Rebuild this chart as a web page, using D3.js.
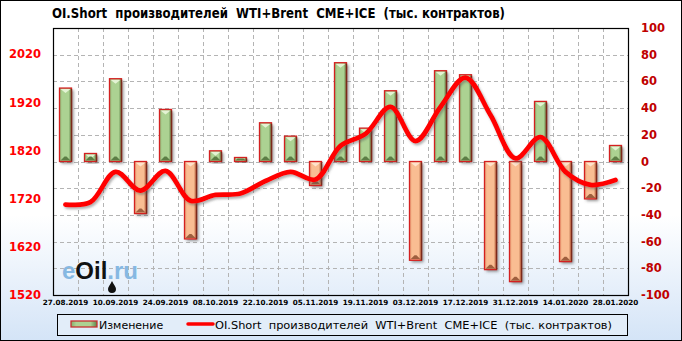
<!DOCTYPE html>
<html>
<head>
<meta charset="utf-8">
<script src="https://cdn.jsdelivr.net/npm/d3@7"></script>
<style>
  body { margin: 0; background: #fff; }
  svg { display: block; }
</style>
</head>
<body>
<script>
//weekly report dates
var dates = ["27.08.2019", "03.09.2019", "10.09.2019", "17.09.2019", "24.09.2019", "01.10.2019",
    "08.10.2019", "15.10.2019", "22.10.2019", "29.10.2019", "05.11.2019", "12.11.2019",
    "19.11.2019", "26.11.2019", "03.12.2019", "10.12.2019", "17.12.2019", "24.12.2019",
    "31.12.2019", "07.01.2020", "14.01.2020", "21.01.2020", "28.01.2020"];

//weekly change (right axis)
var changes = [55, 6, 62, -39, 39, -58, 8, 3, 29, 19, -18, 74, 25, 53, -74, 68, 65, -81, -90, 45, -75, -28, 12];

//OI.Short level (left axis)
var oiShort = [1708, 1713, 1776, 1737, 1778, 1716, 1728, 1731, 1757, 1776, 1760, 1830, 1855, 1911, 1840, 1911, 1972, 1894, 1804, 1848, 1776, 1749, 1759];

var leftTicks = [1520, 1620, 1720, 1820, 1920, 2020];
var rightTicks = [-100, -80, -60, -40, -20, 0, 20, 40, 60, 80, 100];

var titleText = "OI.Short  производителей  WTI+Brent  CME+ICE  (тыс. контрактов)";
var legendBars = "Изменение";

window.onload = draw();

function draw() {
    var width = 682,
        height = 341;
    var plot = {left: 53, right: 628, top: 28, bottom: 295};

    var svg = d3.select("body").append("svg")
        .attr("width", width)
        .attr("height", height)
        .style("font-family", "'DejaVu Sans', Verdana, sans-serif");

    var defs = svg.append("defs");

    //background fade to light blue at the bottom
    var bg = defs.append("linearGradient").attr("id", "bg")
        .attr("gradientUnits", "userSpaceOnUse")
        .attr("x1", 0).attr("y1", 215).attr("x2", 0).attr("y2", 341);
    bg.append("stop").attr("offset", 0).attr("stop-color", "#ffffff");
    bg.append("stop").attr("offset", 1).attr("stop-color", "#d4e4f7");

    function barGrad(id, edgeL, mid, edgeR) {
        var g = defs.append("linearGradient").attr("id", id)
            .attr("x1", 0).attr("y1", 0).attr("x2", 1).attr("y2", 0);
        g.append("stop").attr("offset", 0).attr("stop-color", edgeL);
        g.append("stop").attr("offset", 0.2).attr("stop-color", mid);
        g.append("stop").attr("offset", 0.75).attr("stop-color", mid);
        g.append("stop").attr("offset", 1).attr("stop-color", edgeR);
    }
    barGrad("gGreen", "#86ad6c", "#acd292", "#5f834a");
    barGrad("gOrange", "#e0946a", "#f9bd92", "#b9704a");

    var sh = defs.append("filter").attr("id", "shadow")
        .attr("x", "-50%").attr("y", "-20%").attr("width", "200%").attr("height", "140%");
    sh.append("feDropShadow").attr("dx", 2).attr("dy", 2).attr("stdDeviation", 1.6)
        .attr("flood-color", "#444").attr("flood-opacity", 0.6);

    var lsh = defs.append("filter").attr("id", "lshadow")
        .attr("x", "-10%").attr("y", "-20%").attr("width", "120%").attr("height", "140%");
    lsh.append("feDropShadow").attr("dx", 1.5).attr("dy", 2).attr("stdDeviation", 1.2)
        .attr("flood-color", "#555").attr("flood-opacity", 0.45);

    svg.append("rect")
        .attr("x", 0.5).attr("y", 0.5)
        .attr("width", width - 1).attr("height", height - 1)
        .attr("fill", "url(#bg)")
        .attr("stroke", "#000");

    //scales
    var x = d3.scaleBand()
        .domain(dates)
        .range([plot.left, plot.right])
        .paddingInner(0).paddingOuter(0);

    var yRight = d3.scaleLinear()
        .domain([-100, 100])
        .range([plot.bottom, plot.top]);

    var yLeft = d3.scaleLinear()
        .domain([1520, 2075])
        .range([plot.bottom, plot.top]);

    //grid
    var grid = svg.append("g").attr("class", "grid")
        .attr("stroke", "#b4b4b4")
        .attr("stroke-dasharray", "4,3")
        .attr("stroke-width", 1);

    grid.selectAll(".hgrid")
        .data(rightTicks.filter(function(d){ return d > -100 && d < 100; }))
        .enter().append("line")
        .attr("x1", plot.left).attr("x2", plot.right)
        .attr("y1", function(d){ return Math.round(yRight(d)) + 0.5; })
        .attr("y2", function(d){ return Math.round(yRight(d)) + 0.5; });

    grid.selectAll(".vgrid")
        .data(dates.slice(1))
        .enter().append("line")
        .attr("x1", function(d){ return Math.round(x(d)) + 0.5; })
        .attr("x2", function(d){ return Math.round(x(d)) + 0.5; })
        .attr("y1", plot.top).attr("y2", plot.bottom);

    //watermark
    var wm = svg.append("text")
        .attr("x", 62).attr("y", 279)
        .attr("textLength", 76)
        .attr("lengthAdjust", "spacingAndGlyphs")
        .style("font-family", "'Liberation Sans', Arial, sans-serif")
        .style("font-size", "23px")
        .style("font-weight", "bold");
    wm.append("tspan").attr("fill", "#86b8e2").text("e");
    wm.append("tspan").attr("fill", "#111").text("Oil");
    wm.append("tspan").attr("fill", "#86b8e2").text(".ru");
    svg.append("path")
        .attr("d", "M112,281 C110,285 108,287 108,289 A3.5,3.5 0 0 0 116,289 C116,287 114,285 112,281 Z")
        .attr("fill", "#111");

    //bars
    var bw = 12;
    var bars = svg.append("g").attr("class", "bars");
    var bar = bars.selectAll(".bar")
        .data(changes)
        .enter().append("g")
        .attr("class", "bar");

    bar.each(function(d, i) {
        var g = d3.select(this);
        var cx = x(dates[i]) + x.bandwidth() / 2;
        var x0 = cx - bw / 2;
        var yTop = yRight(Math.max(d, 0)),
            yBot = yRight(Math.min(d, 0));
        var pos = d >= 0;
        var h = yBot - yTop;

        g.append("rect")
            .attr("x", x0).attr("y", yTop)
            .attr("width", bw).attr("height", h)
            .attr("fill", pos ? "url(#gGreen)" : "url(#gOrange)")
            .attr("filter", "url(#shadow)");

        //bevel highlight on top and dark edge at the bottom
        var bev = Math.min(4, h / 2);
        g.append("path")
            .attr("d", "M" + (x0 + 1) + "," + (yTop + 1) + "L" + (x0 + bw - 1) + "," + (yTop + 1) +
                "L" + cx + "," + (yTop + 1 + bev) + "Z")
            .attr("fill", pos ? "#e4f3d4" : "#ffe2cc");
        g.append("path")
            .attr("d", "M" + (x0 + 1) + "," + (yBot - 1) + "L" + (x0 + bw - 1) + "," + (yBot - 1) +
                "L" + (x0 + bw - 1 - bev) + "," + (yBot - 1 - bev) + "L" + (x0 + 1 + bev) + "," + (yBot - 1 - bev) + "Z")
            .attr("fill", pos ? "#5c7e45" : "#9e5f3e");

        g.append("rect")
            .attr("x", x0).attr("y", yTop)
            .attr("width", bw).attr("height", h)
            .attr("fill", "none")
            .attr("stroke", "#d42020")
            .attr("stroke-width", 1.3);
        g.append("line")
            .attr("x1", x0 + bw).attr("x2", x0 + bw)
            .attr("y1", yTop + 1).attr("y2", yBot)
            .attr("stroke", "#7a2a1a").attr("stroke-width", 1.3);
    });

    //OI.Short line
    var line = d3.line()
        .x(function(d, i){ return x(dates[i]) + x.bandwidth() / 2; })
        .y(function(d){ return yLeft(d); })
        .curve(d3.curveCatmullRom.alpha(0.5));

    svg.append("path")
        .datum(oiShort)
        .attr("d", line)
        .attr("fill", "none")
        .attr("stroke", "#ff0000")
        .attr("stroke-width", 4.8)
        .attr("stroke-linecap", "round")
        .attr("filter", "url(#lshadow)");

    //plot frame
    svg.append("rect")
        .attr("x", plot.left + 0.5).attr("y", plot.top + 0.5)
        .attr("width", plot.right - plot.left).attr("height", plot.bottom - plot.top)
        .attr("fill", "none")
        .attr("stroke", "#000")
        .attr("stroke-width", 1.2);

    //left axis labels
    svg.selectAll(".lt")
        .data(leftTicks)
        .enter().append("text")
        .attr("x", 41)
        .attr("y", function(d){ return yLeft(d) + 4; })
        .attr("text-anchor", "end")
        .attr("fill", "#ff0000")
        .style("font-size", "11.5px")
        .style("font-weight", "bold")
        .text(function(d){ return d; });

    //right axis labels
    svg.selectAll(".rt")
        .data(rightTicks)
        .enter().append("text")
        .attr("x", 641)
        .attr("y", function(d){ return yRight(d) + 4; })
        .attr("fill", "#c00000")
        .style("font-size", "11.5px")
        .style("font-weight", "bold")
        .text(function(d){ return d; });

    //date labels, every second week
    svg.selectAll(".xt")
        .data(dates.filter(function(d, i){ return i % 2 === 0; }))
        .enter().append("text")
        .attr("x", function(d){ return x(d) + x.bandwidth() / 2; })
        .attr("y", 305)
        .attr("text-anchor", "middle")
        .attr("fill", "#000")
        .style("font-size", "7.2px")
        .style("font-weight", "bold")
        .text(function(d){ return d; });

    //title
    svg.append("text")
        .attr("x", 52).attr("y", 18)
        .attr("textLength", 453)
        .attr("lengthAdjust", "spacingAndGlyphs")
        .attr("fill", "#000")
        .style("font-family", "'DejaVu Sans Condensed', 'DejaVu Sans', sans-serif")
        .style("font-size", "13.5px")
        .style("font-weight", "bold")
        .style("white-space", "pre")
        .text(titleText);

    //legend
    var lg = svg.append("g").attr("class", "legend");
    lg.append("rect")
        .attr("x", 57.5).attr("y", 314.5)
        .attr("width", 570).attr("height", 21)
        .attr("fill", "#e2edf9")
        .attr("stroke", "#000");
    lg.append("rect")
        .attr("x", 71).attr("y", 321)
        .attr("width", 26).attr("height", 6)
        .attr("fill", "url(#gGreen)")
        .attr("stroke", "#c83030")
        .attr("stroke-width", 1.3);
    lg.append("text")
        .attr("x", 99).attr("y", 329)
        .attr("fill", "#000")
        .style("font-size", "11px")
        .text(legendBars);
    lg.append("line")
        .attr("x1", 188).attr("x2", 213)
        .attr("y1", 324).attr("y2", 324)
        .attr("stroke", "#ff0000")
        .attr("stroke-width", 3.5)
        .attr("stroke-linecap", "round");
    lg.append("text")
        .attr("x", 215).attr("y", 329)
        .attr("textLength", 397)
        .attr("lengthAdjust", "spacingAndGlyphs")
        .attr("fill", "#000")
        .style("font-size", "11px")
        .style("white-space", "pre")
        .text(titleText);
}
</script>
</body>
</html>
